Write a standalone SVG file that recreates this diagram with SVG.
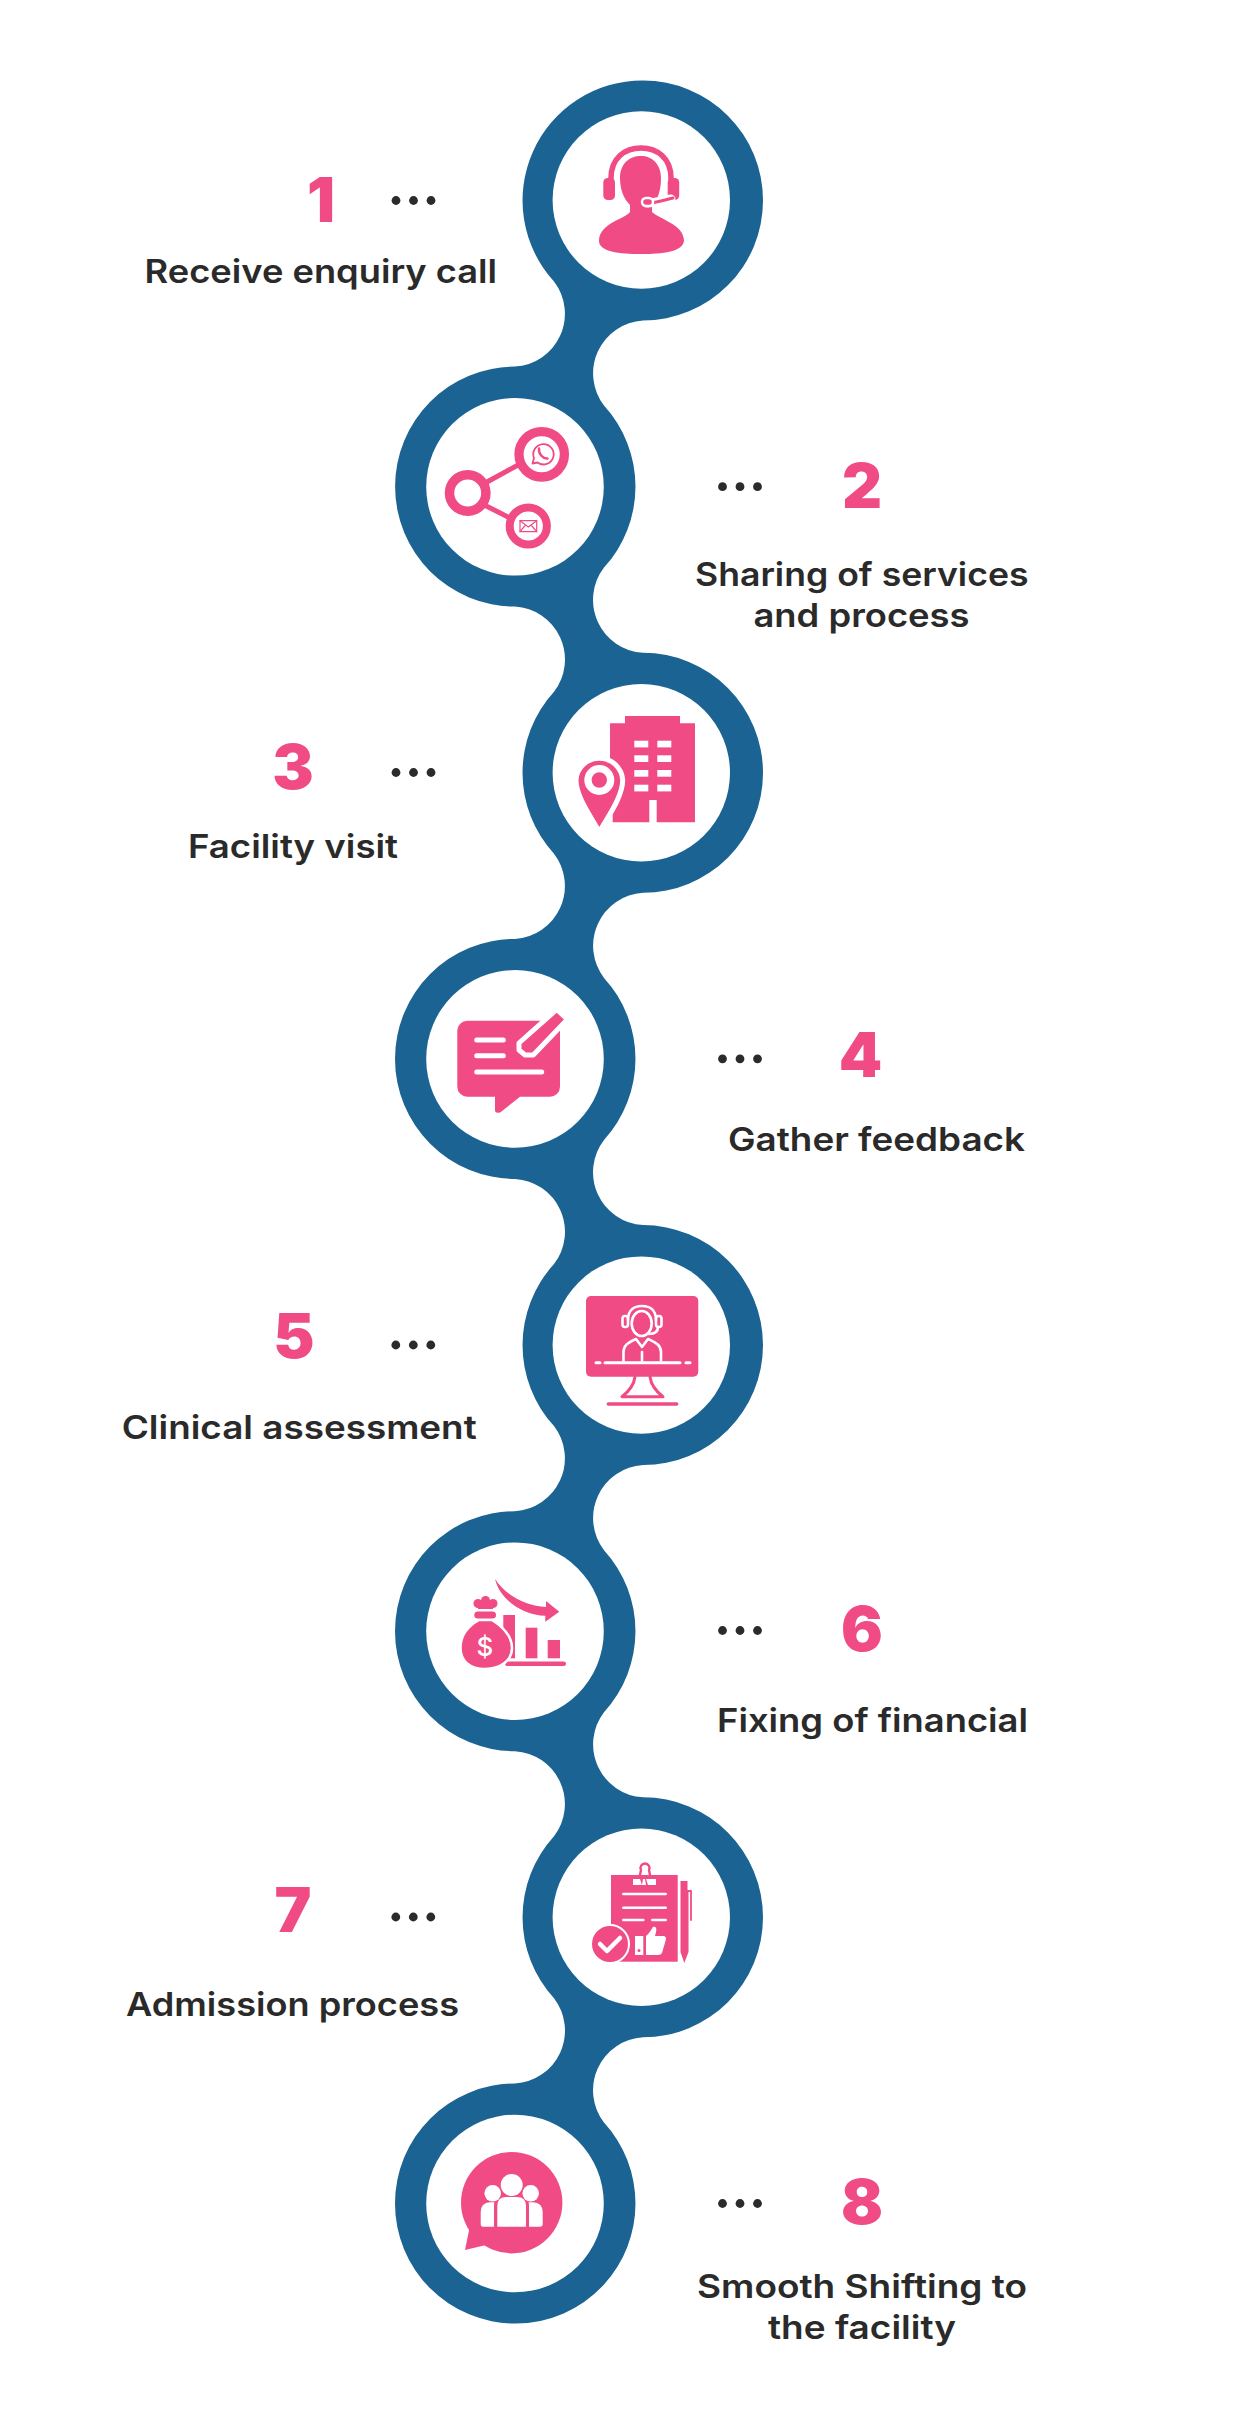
<svg xmlns="http://www.w3.org/2000/svg" width="1252" height="2418" viewBox="0 0 1252 2418">
<style>
.in{fill:#fff}
.p{fill:#f04b85}
.w{fill:#fff}
.ps{fill:none;stroke:#f04b85;stroke-linecap:round;stroke-linejoin:round}
.ws{fill:none;stroke:#fff;stroke-linecap:round;stroke-linejoin:round}
.num{font-family:"Inter","Liberation Sans",sans-serif;font-weight:900;font-size:62px;fill:#f04b85;text-anchor:middle}
.lab{font-family:"Inter","Liberation Sans",sans-serif;font-weight:600;font-size:33px;fill:#2a2a2a}
.d{fill:#2b2b2b}
</style>
<defs>
<g id="dots"><circle cx="-17.5" cy="0" r="4.4" class="d"/><circle cx="0" cy="0" r="4.4" class="d"/><circle cx="17.5" cy="0" r="4.4" class="d"/></g>
</defs>
<rect width="1252" height="2418" fill="#fff"/>
<g id="connectors">
<path fill="#1a6393" d="M643 80.5A120 120 0 0 1 643 320.5A53 53 0 0 0 604 405.6A120 120 0 0 1 604 567.6A53 53 0 0 0 643 652.8A120 120 0 0 1 643 892.8A53 53 0 0 0 604 977.9A120 120 0 0 1 604 1139.9A53 53 0 0 0 643 1225.1A120 120 0 0 1 643 1465.1A53 53 0 0 0 604 1550.2A120 120 0 0 1 604 1712.2A53 53 0 0 0 643 1797.3A120 120 0 0 1 643 2037.3A53 53 0 0 0 604 2122.5A120 120 0 0 1 604 2284.5A120 120 0 0 1 515 2323.5A120 120 0 0 1 515 2083.5A53 53 0 0 0 554 1998.3A120 120 0 0 1 554 1836.3A53 53 0 0 0 515 1751.2A120 120 0 0 1 515 1511.2A53 53 0 0 0 554 1426.1A120 120 0 0 1 554 1264.1A53 53 0 0 0 515 1178.9A120 120 0 0 1 515 938.9A53 53 0 0 0 554 853.8A120 120 0 0 1 554 691.8A53 53 0 0 0 515 606.6A120 120 0 0 1 515 366.6A53 53 0 0 0 554 281.5A120 120 0 0 1 643 80.5Z"/>
</g>
<g id="node-1">
<circle class="in" cx="641.3" cy="200" r="88.7"/>
<path class="p" d="M641 156C629 156 620 164 620 178C620 190 624 199 630 205V212C625 219 600 223 599 240C598 252 620 254 641 254C662 254 684 252 684 240C683 224 659 219 652 212V206C658 199 661 190 661 178C661 164 652 156 641 156Z"/>
<path class="ps" stroke-width="5.5" d="M611 184V178C611 158 625 148 641 148C657 148 671 158 671 178V184"/>
<rect class="p" x="603.3" y="178" width="11.7" height="22" rx="4.5"/>
<rect class="p" x="667.7" y="178" width="11.5" height="22" rx="4.5"/>
<path class="ws" stroke-width="9" d="M647 203C655 203 664 200 671 199"/>
<path class="ps" stroke-width="3" d="M648 203C656 203 664 200 673 198"/>
<rect x="642" y="198" width="11" height="8" rx="4" fill="#f04b85" stroke="#fff" stroke-width="2.5"/>
<text class="num" x="321" y="221.5">1</text>
<use href="#dots" x="413.5" y="200.5"/>
<text class="lab" x="144.6" y="283" textLength="352.5" lengthAdjust="spacingAndGlyphs">Receive enquiry call</text>
</g>
<g id="node-2">
<circle class="in" cx="515" cy="486.8" r="88.8"/>
<g class="ps"><path stroke-width="5" d="M487 482L518 465M485.7 505.7L510 518"/>
<circle cx="467.7" cy="493" r="18.2" stroke-width="9.5"/>
<circle cx="541.7" cy="454.3" r="22.7" stroke-width="9.3"/>
<circle cx="528.3" cy="526" r="18.6" stroke-width="8"/>
<path stroke-width="1.8" d="M532.5 463.5L534 458A10.2 10.2 0 1 1 537.5 462.5Z"/>
<path stroke-width="2.4" d="M539 448.5C538.5 454 543 459 547.5 458.5"/>
<rect x="520" y="520.7" width="16.7" height="11" stroke-width="1.2"/>
<path stroke-width="1.2" d="M520 520.7L528.3 527L536.7 520.7M520 531.7L525.5 525M536.7 531.7L531 525"/></g>
<use href="#dots" x="740" y="486.7"/>
<text class="num" x="862" y="507.5">2</text>
<text class="lab" x="695" y="586" textLength="333.5" lengthAdjust="spacingAndGlyphs">Sharing of services</text>
<text class="lab" x="753.5" y="627" textLength="216" lengthAdjust="spacingAndGlyphs">and process</text>
</g>
<g id="node-3">
<circle class="in" cx="641.3" cy="772.8" r="88.7"/>
<path class="p" d="M610 723.3H625V716H680V723.3H695V822.3H656.7V800H649.3V822.3H612.7V780H610Z"/>
<g class="w"><rect x="634.3" y="740.7" width="14" height="6.7"/><rect x="657.3" y="740.7" width="14" height="6.7"/><rect x="634.3" y="755.3" width="14" height="6.7"/><rect x="657.3" y="755.3" width="14" height="6.7"/><rect x="634.3" y="770" width="14" height="6.7"/><rect x="657.3" y="770" width="14" height="6.7"/><rect x="634.3" y="784.7" width="14" height="6.7"/><rect x="657.3" y="784.7" width="14" height="6.7"/></g>
<path fill="#f04b85" stroke="#fff" stroke-width="5" d="M599.3 832C592 818 576 797 576 780A23.4 23.4 0 0 1 622.7 780C622.7 797 607 818 599.3 832Z"/>
<circle class="w" cx="599.3" cy="780" r="15"/><circle class="p" cx="599.3" cy="780" r="7.7"/>
<use href="#dots" x="413.5" y="772.5"/>
<text class="num" x="293" y="789">3</text>
<text class="lab" x="188" y="857.5" textLength="210" lengthAdjust="spacingAndGlyphs">Facility visit</text>
</g>
<g id="node-4">
<circle class="in" cx="515" cy="1058.9" r="88.8"/>
<path class="p" d="M467.3 1020.7H550A10 10 0 0 1 560 1030.7V1086.7A10 10 0 0 1 550 1096.7H520L500.5 1112.2Q495 1114 495 1110V1096.7H467.3A10 10 0 0 1 457.3 1086.7V1030.7A10 10 0 0 1 467.3 1020.7Z"/>
<g class="ws" stroke-width="5"><path d="M476.7 1040H503.3M476.7 1055.7H503.3M476.7 1072H541.7"/></g>
<path fill="#f04b85" stroke="#fff" stroke-width="5" stroke-linejoin="round" d="M556.7 1009.5L567.5 1019.3L533.3 1055H525L519 1050V1043Z"/>
<use href="#dots" x="740" y="1058.8"/>
<text class="num" x="860.5" y="1076.5">4</text>
<text class="lab" x="728" y="1150.5" textLength="297" lengthAdjust="spacingAndGlyphs">Gather feedback</text>
</g>
<g id="node-5">
<circle class="in" cx="641.3" cy="1345.1" r="88.7"/>
<rect class="p" x="586" y="1296" width="112.3" height="80.7" rx="5"/>
<path class="ps" stroke-width="3" d="M635 1376.7C634 1385 628 1392 622 1396.7H663C657 1392 651 1385 650 1376.7"/>
<path class="ps" stroke-width="3.5" d="M608.3 1404H676.7"/>
<g class="ws" stroke-width="2.6">
<path stroke-width="3" d="M596 1362.7H600M605 1362.7H680M686 1362.7H690"/>
<ellipse cx="641.7" cy="1323.5" rx="10" ry="12.5"/>
<path d="M628 1320C628 1310 634 1306 642 1306C650 1306 656 1310 656 1320"/>
<rect x="622.5" y="1316" width="5.5" height="11" rx="2.5"/><rect x="656" y="1316" width="5.5" height="11" rx="2.5"/>
<path d="M658 1327C658 1332 654 1334 649 1334"/>
<path d="M623.5 1362V1352C623.5 1344 630 1342 636 1339L642 1347L648 1339C654 1342 661 1344 661 1352V1362"/>
<path d="M642 1352V1361"/>
</g>
<use href="#dots" x="413.3" y="1345"/>
<text class="num" x="294" y="1357.5">5</text>
<text class="lab" x="121.7" y="1438.5" textLength="355" lengthAdjust="spacingAndGlyphs">Clinical assessment</text>
</g>
<g id="node-6">
<circle class="in" cx="515" cy="1631.2" r="88.8"/>
<path class="p" d="M495 1579C507 1597 527 1606 546 1607V1601L559.3 1611.7L545.3 1621.7V1615.7C523 1615 500 1600 495 1579Z"/>
<rect class="p" x="503.3" y="1615" width="11.7" height="43.3"/>
<rect class="p" x="525.7" y="1627.7" width="11.7" height="30.6"/>
<rect class="p" x="547.7" y="1640" width="12.3" height="18.3"/>
<rect class="p" x="505" y="1661.5" width="61" height="4.5" rx="2.2"/>
<path fill="#f04b85" stroke="#fff" stroke-width="2.5" d="M479 1620C470 1625 460.5 1634 460.5 1648C460.5 1661 470 1669 485 1669C500 1669 512 1661 512 1648C512 1634 500 1625 492 1620Z"/>
<rect class="p" x="474.3" y="1611.5" width="21.7" height="7" rx="3.5"/>
<g class="p"><circle cx="478" cy="1603.5" r="4.5"/><circle cx="485.5" cy="1600.5" r="4.5"/><circle cx="493" cy="1603.5" r="4.5"/><rect x="478" y="1602" width="15" height="7"/></g>
<text x="485" y="1656" font-family="Inter,'Liberation Sans',sans-serif" font-size="26" font-weight="500" fill="#fff" text-anchor="middle">$</text>
<use href="#dots" x="740" y="1630.5"/>
<text class="num" x="862" y="1651">6</text>
<text class="lab" x="717" y="1731.5" textLength="311" lengthAdjust="spacingAndGlyphs">Fixing of financial</text>
</g>
<g id="node-7">
<circle class="in" cx="641.3" cy="1917.3" r="88.7"/>
<rect class="p" x="611" y="1875" width="66.7" height="86.7"/>
<path class="ps" stroke-width="2.4" d="M640 1875L641 1870A4.5 4.5 0 1 1 649 1870L650 1875"/>
<path class="w" d="M633 1879H640L642 1885H633ZM646 1879L648 1885H656V1879Z"/><path class="w" d="M643 1879H645L646 1885H642Z"/>
<g class="ws" stroke-width="2.6"><path d="M623.3 1894H665.7M623.3 1907.7H665.7M623.3 1920H643.3M652.3 1920H665.7"/></g>
<path class="p" d="M680.5 1890V1881H687.5V1890H688.5V1952L684.3 1963L680.5 1952Z"/>
<path class="ps" stroke-width="1.8" d="M688 1891H691V1920"/>
<circle cx="610" cy="1944" r="19" fill="#f04b85" stroke="#fff" stroke-width="2"/>
<path class="ws" stroke-width="4.5" d="M600 1944L607 1951L620 1938"/>
<rect class="w" x="635" y="1936" width="8.3" height="19"/>
<circle class="p" cx="639" cy="1950.5" r="1.5"/>
<path class="w" d="M646 1936C650 1933 652 1928 653 1927C656 1926 657 1929 656 1932L655 1936H664Q667 1937 665.5 1941L662 1953Q661 1955 658 1955H646Z"/>
<use href="#dots" x="413.3" y="1917"/>
<text class="num" x="293" y="1932">7</text>
<text class="lab" x="126" y="2015.5" textLength="333" lengthAdjust="spacingAndGlyphs">Admission process</text>
</g>
<g id="node-8">
<circle class="in" cx="515" cy="2203.5" r="88.8"/>
<circle class="p" cx="511.7" cy="2202.7" r="50.7"/>
<path class="p" d="M469.5 2228L465 2250L486 2245L495 2240Z"/>
<g class="w">
<circle cx="511.7" cy="2185" r="11"/><circle cx="492.7" cy="2193.3" r="8.3"/><circle cx="530.7" cy="2193.3" r="8.3"/>
<path d="M497.3 2226.7V2206Q497.3 2197 506 2197H517Q526 2197 526 2206V2226.7Z"/>
<path d="M494 2226.7H483Q480.7 2226.7 480.7 2224V2212Q480.7 2203 490 2202.3H494Q494.5 2203 494 2206Z"/>
<path d="M529 2226.7H540Q542.7 2226.7 542.7 2224V2212Q542.7 2203 533 2202.3H528.5Q529 2203 529 2206Z"/>
</g>
<use href="#dots" x="740" y="2203.5"/>
<text class="num" x="862" y="2223.5">8</text>
<text class="lab" x="697" y="2297.5" textLength="330" lengthAdjust="spacingAndGlyphs">Smooth Shifting to</text>
<text class="lab" x="768" y="2339" textLength="188" lengthAdjust="spacingAndGlyphs">the facility</text>
</g>
</svg>
